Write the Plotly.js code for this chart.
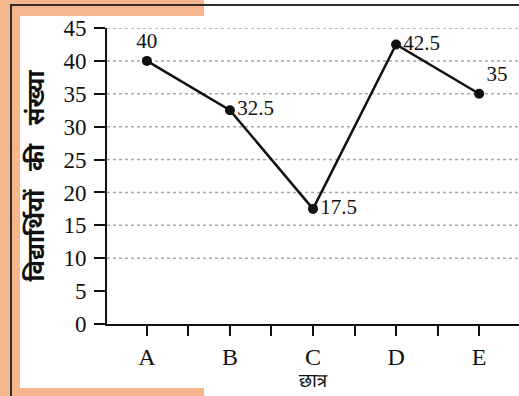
<!DOCTYPE html>
<html>
<head>
<meta charset="utf-8">
<script src="https://cdn.plot.ly/plotly-3.0.1.min.js"></script>
<style>
  html, body { margin: 0; padding: 0; background: #ffffff; }
  #wrap { position: relative; width: 519px; height: 396px; overflow: hidden; background: #ffffff; }
  .band { position: absolute; background: #f7b78e; }
  .rule { position: absolute; background: #2e2e2e; }
  #chart { position: absolute; left: 0; top: 0; width: 519px; height: 396px; }
</style>
</head>
<body>
<div id="wrap">
  <div class="band" style="left:0;top:0;width:204px;height:16px;"></div>
  <div class="band" style="left:0;top:0;width:20px;height:396px;"></div>
  <div class="band" style="left:0;top:388px;width:204px;height:8px;"></div>
  <div class="rule" style="left:10px;top:4px;width:509px;height:2px;"></div>
  <div class="rule" style="left:10px;top:4px;width:2px;height:392px;"></div>
  <div id="chart"></div>
</div>
<script>
// Students per group
const groups = ['A', 'B', 'C', 'D', 'E'];
const students = [40, 32.5, 17.5, 42.5, 35];
const labelText = ['40', '32.5', '17.5', '42.5', '35'];
const labelPos = ['top center', 'middle right', 'middle right', 'middle right', 'top right'];
const yTicks = [0, 5, 10, 15, 20, 25, 30, 35, 40, 45];
const gridLevels = [10, 15, 20, 25, 30, 35, 40, 45];
const yTitleWords = ['विद्यार्थियों', 'की', 'संख्या'];
const xTitle = 'छात्र';

const xPos = groups.map((g, i) => i);
const serif = 'Liberation Serif, Times New Roman, serif';
const deva = 'Noto Sans Devanagari, Lohit Devanagari, Noto Sans, sans-serif';

const trace = {
  type: 'scatter',
  mode: 'lines+markers+text',
  x: xPos,
  y: students,
  text: labelText,
  textposition: labelPos,
  textfont: { family: serif, size: 21, color: '#111' },
  line: { color: '#111', width: 2.5 },
  marker: { color: '#111', size: 10 },
  cliponaxis: false,
  hoverinfo: 'skip'
};

const gridShapes = gridLevels.map(v => ({
  type: 'line', xref: 'paper', yref: 'y',
  x0: 0, x1: 1, y0: v, y1: v,
  line: { color: '#a8a8a8', width: 1.5, dash: 'dot' },
  layer: 'below'
}));

const layout = {
  width: 519,
  height: 396,
  margin: { l: 107, r: 0, t: 28, b: 72 },
  paper_bgcolor: 'rgba(0,0,0,0)',
  plot_bgcolor: 'rgba(0,0,0,0)',
  showlegend: false,
  shapes: gridShapes,
  xaxis: {
    range: [-0.48, 4.48],
    tickmode: 'array',
    tickvals: xPos,
    ticktext: groups,
    ticks: 'outside',
    ticklen: 10,
    tickwidth: 2,
    tickcolor: '#111',
    minor: { tick0: 0.5, dtick: 1, ticks: 'outside', ticklen: 10, tickwidth: 2, tickcolor: '#111' },
    showgrid: false,
    zeroline: false,
    showline: true,
    linecolor: '#111',
    linewidth: 2,
    tickfont: { family: serif, size: 24, color: '#111' },
    title: { text: xTitle, font: { family: deva, size: 19, color: '#111' }, standoff: 4 }
  },
  yaxis: {
    range: [0, 45],
    tickmode: 'array',
    tickvals: yTicks,
    ticks: 'outside',
    ticklen: 11,
    tickwidth: 2,
    tickcolor: '#111',
    ticklabelstandoff: 3,
    showgrid: false,
    zeroline: false,
    showline: true,
    linecolor: '#111',
    linewidth: 2,
    tickfont: { family: serif, size: 23, color: '#111' },
    title: {
      text: '<b>' + yTitleWords.join('\u00a0\u00a0\u00a0') + '</b>',
      font: { family: deva, size: 24, color: '#111' },
      standoff: 12
    }
  }
};

Plotly.newPlot('chart', [trace], layout, { staticPlot: true, displayModeBar: false });
</script>
</body>
</html>
